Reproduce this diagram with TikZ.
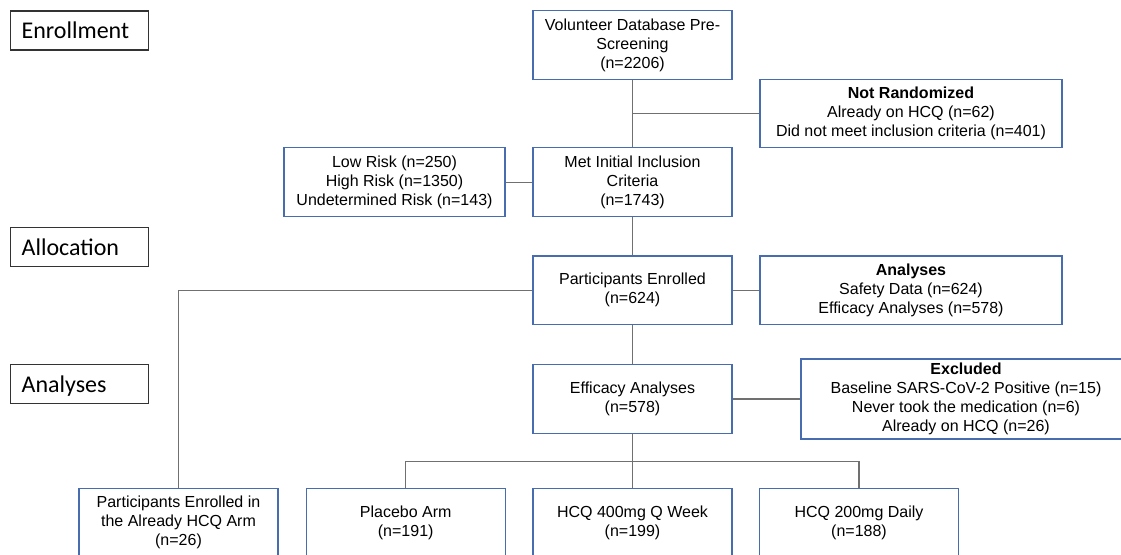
\documentclass[tikz,border=0pt]{standalone}
\usepackage{fontspec}
\setmainfont{Liberation Sans}
\newfontfamily\calib{Carlito}
\definecolor{boxblue}{RGB}{72,108,176}
\definecolor{linegray}{RGB}{112,112,112}
\begin{document}
\begin{tikzpicture}[x=1pt,y=-1pt,
 fbox/.style={draw=boxblue, line width=1.4pt, fill=white, align=center, inner sep=0pt, font=\fontsize{16}{19}\selectfont},
 std/.style={fbox, minimum width=199pt, minimum height=69pt},
 lbl/.style={draw=black!80, line width=1.3pt, anchor=west, minimum height=39pt, inner xsep=11pt, text width=116pt, align=left, text height=16pt, text depth=0pt, font=\calib\fontsize{24}{28}\selectfont},
 conn/.style={draw=linegray, line width=1.2pt}]
\useasboundingbox (0,0) rectangle (1121,554);
\fill[white] (0,0) rectangle (1121,554);
\clip (0,0) rectangle (1121,554);

\node[lbl] (enrl) at (10,30.5) {Enrollment};
\node[lbl] (alll) at (10,247) {Allocation};
\node[lbl] (anal) at (10,384) {Analyses};

\node[std] (vol) at (632.5,45) {Volunteer Database Pre-\\Screening\\(n=2206)};
\node[fbox, minimum width=302pt, minimum height=68.4pt] (notr) at (911,113.5) {\textbf{Not Randomized}\\Already on HCQ (n=62)\\Did not meet inclusion criteria (n=401)};
\node[std] (met) at (632.5,182.2) {Met Initial Inclusion\\Criteria\\(n=1743)};
\node[fbox, minimum width=221pt, minimum height=69pt] (risk) at (394.5,182.2) {Low Risk (n=250)\\High Risk (n=1350)\\Undetermined Risk (n=143)};
\node[std, minimum height=68.3pt] (enr) at (632.5,290.2) {Participants Enrolled\\(n=624)};
\node[fbox, minimum width=302pt, minimum height=68.3pt] (anbox) at (911,290.2) {\textbf{Analyses}\\Safety Data (n=624)\\Efficacy Analyses (n=578)};
\node[std] (eff) at (632.5,399) {Efficacy Analyses\\(n=578)};
\node[fbox, minimum width=330pt, minimum height=79.7pt] (excl) at (966,399) {\textbf{Excluded}\\Baseline SARS-CoV-2 Positive (n=15)\\Never took the medication (n=6)\\Already on HCQ (n=26)};
\node[std] (b1) at (178.5,522.7) {Participants Enrolled in\\the Already HCQ Arm\\(n=26)};
\node[std] (b2) at (405.7,522.7) {Placebo Arm\\(n=191)};
\node[std] (b3) at (632.5,522.7) {HCQ 400mg Q Week\\(n=199)};
\node[std] (b4) at (859,522.7) {HCQ 200mg Daily\\(n=188)};

\coordinate (br) at (632.5,461.7);
\draw[conn] (vol.south) -- (met.north);
\draw[conn] (notr.west) -- (notr.west -| vol.south);
\draw[conn] (met.west) -- (risk.east);
\draw[conn] (met.south) -- (enr.north);
\draw[conn] (enr.east) -- (anbox.west);
\draw[conn] (enr.west) -| (b1.north);
\draw[conn] (enr.south) -- (eff.north);
\draw[conn] (eff.east) -- (excl.west);
\draw[conn] (eff.south) -- (b3.north);
\draw[conn] (b2.north) |- (br) -| (b4.north);
\end{tikzpicture}
\end{document}
